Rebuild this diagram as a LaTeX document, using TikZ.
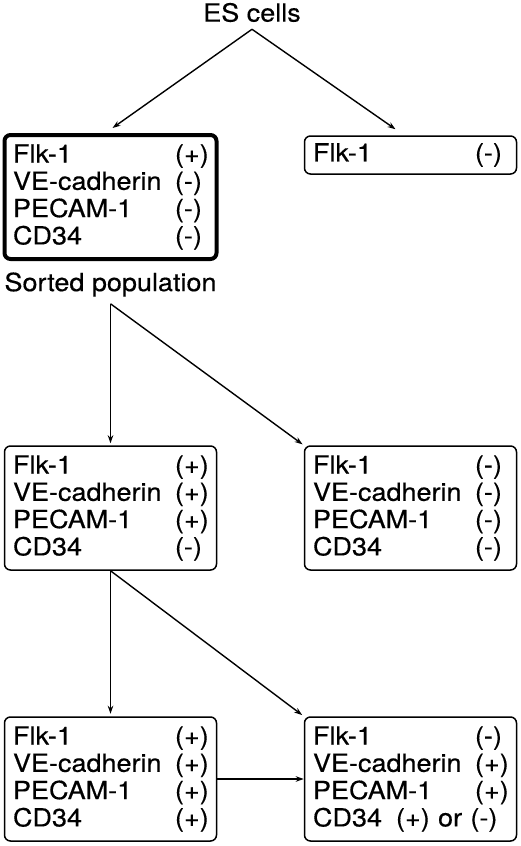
\documentclass[tikz,border=0pt]{standalone}
\usepackage{fontspec}
\setmainfont{TeX Gyre Heros}[FakeStretch=1.08, FakeBold=0.4]
\usepackage{tikz}
\usetikzlibrary{shapes.geometric, arrows.meta}
\tikzstyle{markerbox} = [rectangle, rounded corners=6pt, minimum width=212pt, minimum height=124pt, text width=195pt, inner xsep=8.5pt, align=left, draw=black, line width=1.5pt, font=\fontsize{25pt}{27.3pt}\selectfont]
\tikzstyle{sortedbox} = [markerbox, line width=4pt]
\tikzstyle{singlebox} = [markerbox, minimum height=38pt]
\tikzstyle{label} = [inner sep=7pt, font=\fontsize{25pt}{27.3pt}\selectfont]
\tikzstyle{arrow} = [line width=1.4pt,->,>={Stealth[length=8pt,width=5.5pt]}]
\newcommand{\mrow}[2]{\makebox[162pt][l]{#1}#2}

\begin{document}
\begin{tikzpicture}[x=1pt, y=1pt, node distance=300pt]
		\useasboundingbox (0,0) rectangle (520,-846);
		\node (es) [label] at (252,-12.5) {ES cells};
		\node (box1) [sortedbox] at (110.5,-197) {\mrow{Flk-1}{(+)}\\ \mrow{VE-cadherin}{(-)}\\ \mrow{PECAM-1}{(-)}\\ \mrow{CD34}{(-)}};
		\node (box2) [singlebox, right of=box1, yshift=42pt] {\mrow{Flk-1}{(-)}};
		\node (sorted) [label, below of=box1, node distance=87.5pt] {Sorted population};
		
		\node (box3) [markerbox, below of=box1, yshift=-11pt] {\mrow{Flk-1}{(+)}\\ \mrow{VE-cadherin}{(+)}\\ \mrow{PECAM-1}{(+)}\\ \mrow{CD34}{(-)}};
		\node (box4) [markerbox, right of=box3] {\mrow{Flk-1}{(-)}\\ \mrow{VE-cadherin}{(-)}\\ \mrow{PECAM-1}{(-)}\\ \mrow{CD34}{(-)}};
		\node (box5) [markerbox, below of=box3, yshift=29pt] {\mrow{Flk-1}{(+)}\\ \mrow{VE-cadherin}{(+)}\\ \mrow{PECAM-1}{(+)}\\ \mrow{CD34}{(+)}};
		\node (box6) [markerbox, right of=box5] {\mrow{Flk-1}{(-)}\\ \mrow{VE-cadherin}{(+)}\\ \mrow{PECAM-1}{(+)}\\ \makebox[83pt][l]{CD34}(+) or (-)};
		
		\draw [arrow] (es.south) -- ([xshift=2pt,yshift=5pt]box1.north);
		\draw [arrow] (es.south) -- ([xshift=-15pt,yshift=6pt]box2.north);
		\draw [arrow, shorten >=2pt] (sorted.south) -- (box3.north);
		\draw [arrow, shorten >=1.5pt] (sorted.south) -- (box4.north west);
		\draw [arrow, shorten >=2.5pt] (box3.south) -- (box5.north);
		\draw [arrow, shorten >=2pt] (box3.south) -- (box6.north west);
		\draw [arrow] (box5.east) -- (box6.west);
\end{tikzpicture}
\end{document}
